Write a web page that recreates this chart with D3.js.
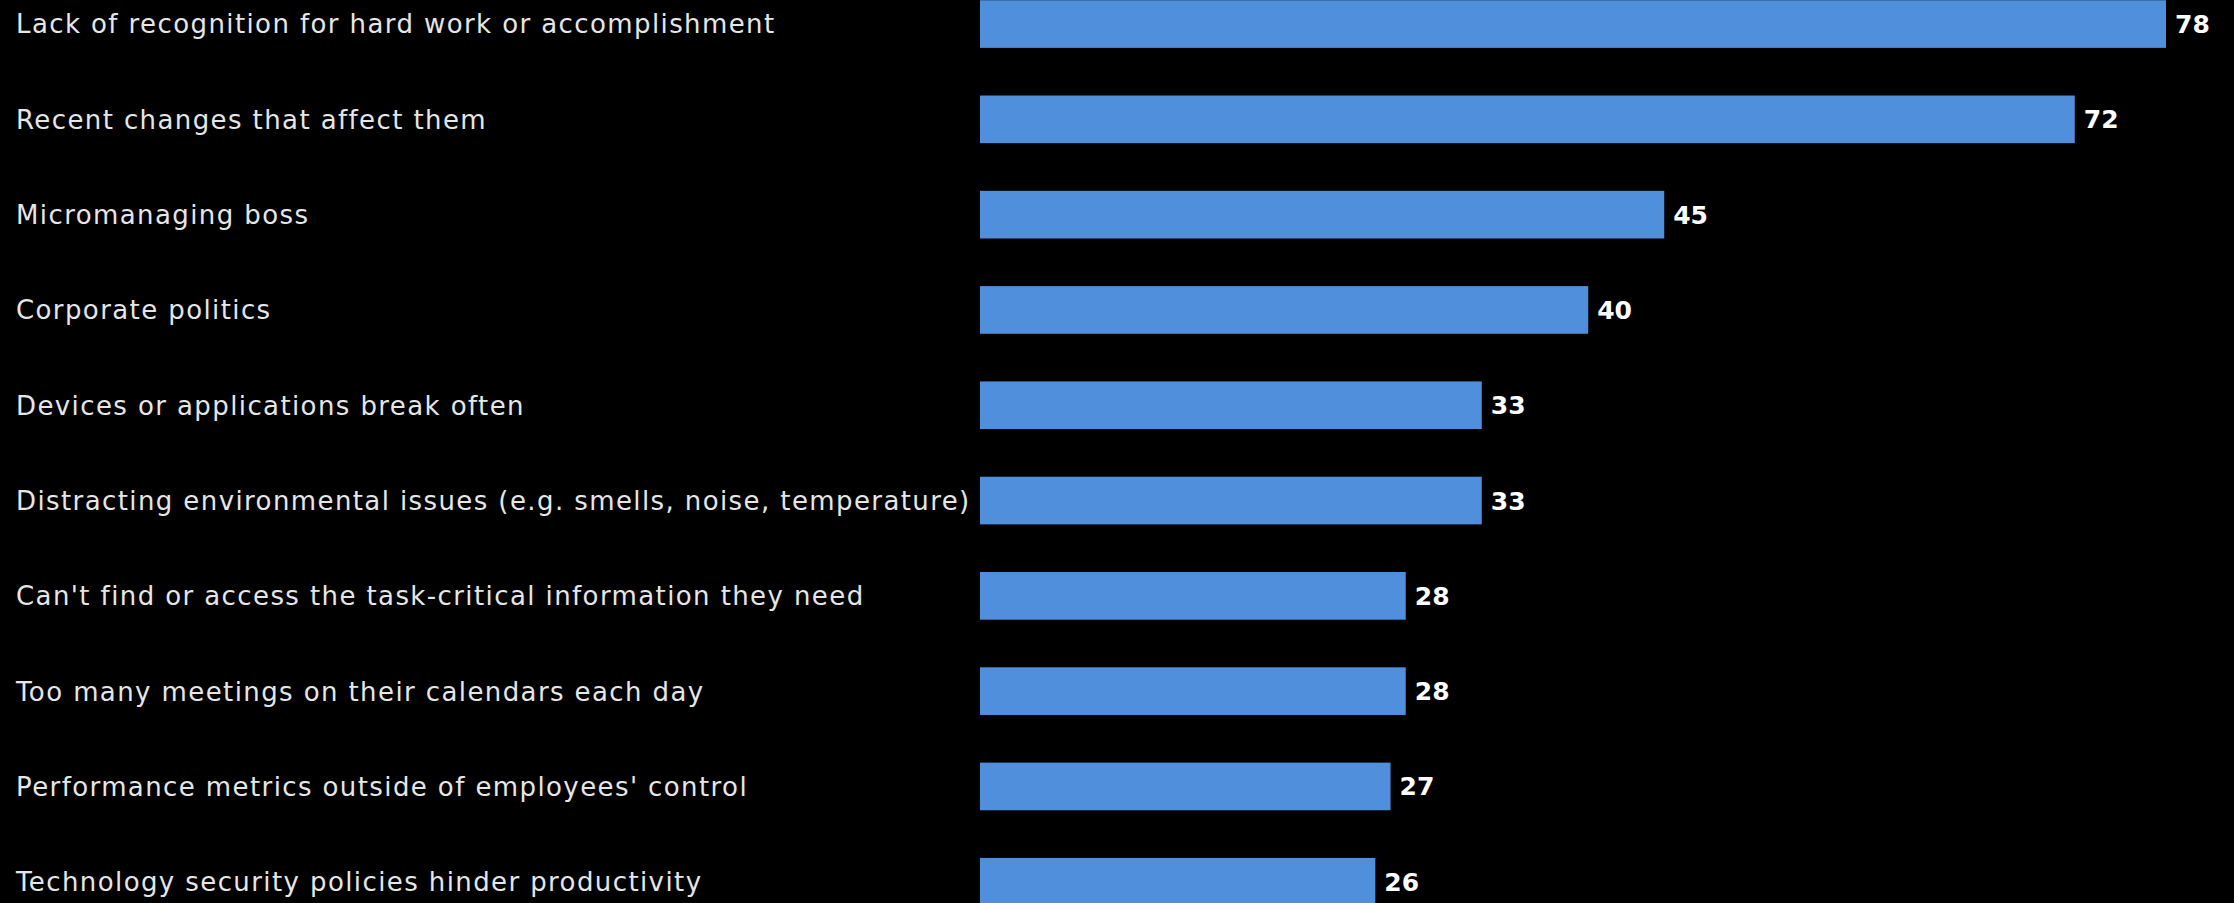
<!DOCTYPE html>
<html>
<head>
<meta charset="utf-8">
<script src="https://cdn.jsdelivr.net/npm/d3@7"></script>
<style>
  html, body { margin: 0; padding: 0; background: #000; }
  svg { display: block; }
</style>
</head>
<body>
<div id="chart"></div>
<script>
// Reasons employees feel frustrated at work (% of respondents)
const categories = [
  "Lack of recognition for hard work or accomplishment",
  "Recent changes that affect them",
  "Micromanaging boss",
  "Corporate politics",
  "Devices or applications break often",
  "Distracting environmental issues (e.g. smells, noise, temperature)",
  "Can't find or access the task-critical information they need",
  "Too many meetings on their calendars each day",
  "Performance metrics outside of employees' control",
  "Technology security policies hinder productivity"
];
const values = [78, 72, 45, 40, 33, 33, 28, 28, 27, 26];

const width = 2234, height = 903;
const plotLeft = 980;

const svg = d3.select("#chart").append("svg")
  .attr("width", width)
  .attr("height", height)
  .style("background", "#000");

const x = d3.scaleLinear()
  .domain([0, 78])
  .range([plotLeft, 2166]);

const y = d3.scaleBand()
  .domain(categories)
  .range([-23.6, -23.6 + 953])
  .paddingInner(0.5)
  .paddingOuter(0.25);

const rows = categories.map((c, i) => ({ label: c, value: values[i] }));

// bars
svg.append("g")
  .selectAll("rect")
  .data(rows)
  .join("rect")
  .attr("x", x(0))
  .attr("y", d => y(d.label))
  .attr("width", d => x(d.value) - x(0))
  .attr("height", y.bandwidth())
  .attr("fill", "#4f8fdc");

// category labels, left aligned
svg.append("g")
  .selectAll("text")
  .data(rows)
  .join("text")
  .attr("x", 16)
  .attr("y", d => y(d.label) + y.bandwidth() / 2)
  .attr("dy", "0.36em")
  .attr("fill", "#e6e6e6")
  .style("font-family", "'DejaVu Sans', Verdana, sans-serif")
  .style("font-size", "26px")
  .style("letter-spacing", "1.4px")
  .text(d => d.label);

// value labels at bar ends
svg.append("g")
  .selectAll("text")
  .data(rows)
  .join("text")
  .attr("x", d => x(d.value) + 9)
  .attr("y", d => y(d.label) + y.bandwidth() / 2)
  .attr("dy", "0.36em")
  .attr("fill", "#ffffff")
  .style("font-family", "'DejaVu Sans', Verdana, sans-serif")
  .style("font-size", "25px")
  .style("font-weight", "bold")
  .text(d => d.value);
</script>
</body>
</html>
